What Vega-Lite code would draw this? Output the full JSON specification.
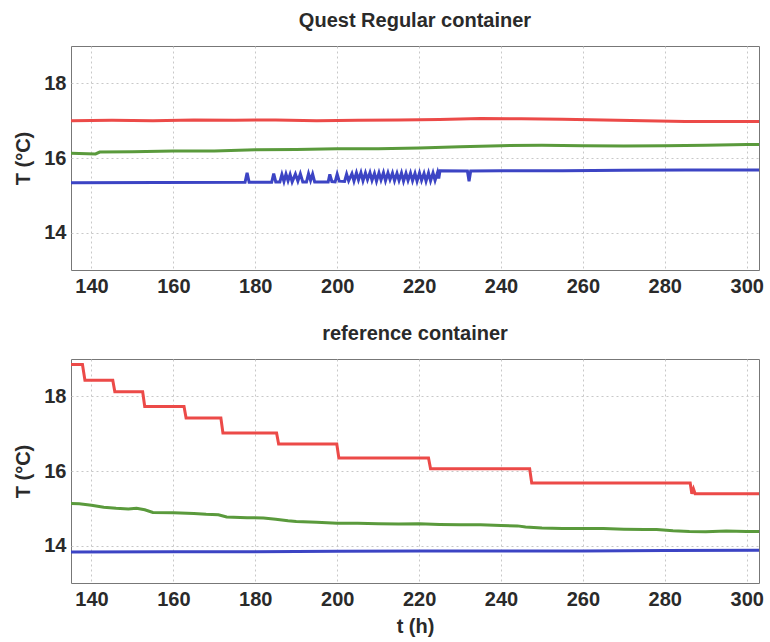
{
  "$schema": "https://vega.github.io/schema/vega-lite/v6.json",
  "background": "white",
  "padding": {"left": 12, "top": 10, "right": 5, "bottom": 5},
  "spacing": 26,
  "config": {
    "font": "Liberation Sans",
    "view": {"stroke": "#777777", "strokeWidth": 1},
    "title": {"fontSize": 20, "fontWeight": "bold", "color": "#2a2a2a", "offset": 15, "font": "Liberation Sans"},
    "axis": {
      "labelFont": "Liberation Sans", "labelFontSize": 20, "labelFontWeight": "bold", "labelColor": "#2a2a2a",
      "titleFont": "Liberation Sans", "titleFontSize": 20, "titleFontWeight": "bold", "titleColor": "#2a2a2a",
      "grid": true, "gridColor": "#c8c8c8", "gridDash": [2, 3], "gridWidth": 1,
      "domain": false, "tickSize": 0
    }
  },
  "datasets": {
    "top": [
      {"t": 135, "T": 17.0, "s": "red"}, {"t": 145, "T": 17.01, "s": "red"}, {"t": 155, "T": 17.0, "s": "red"}, {"t": 165, "T": 17.02, "s": "red"}, {"t": 175, "T": 17.01, "s": "red"}, {"t": 185, "T": 17.02, "s": "red"}, {"t": 195, "T": 17.0, "s": "red"}, {"t": 205, "T": 17.01, "s": "red"}, {"t": 215, "T": 17.02, "s": "red"}, {"t": 225, "T": 17.03, "s": "red"}, {"t": 235, "T": 17.06, "s": "red"}, {"t": 245, "T": 17.05, "s": "red"}, {"t": 255, "T": 17.04, "s": "red"}, {"t": 265, "T": 17.02, "s": "red"}, {"t": 275, "T": 17.0, "s": "red"}, {"t": 285, "T": 16.98, "s": "red"}, {"t": 295, "T": 16.98, "s": "red"}, {"t": 303, "T": 16.98, "s": "red"},
      {"t": 135, "T": 16.13, "s": "green"}, {"t": 141, "T": 16.11, "s": "green"}, {"t": 142, "T": 16.16, "s": "green"}, {"t": 150, "T": 16.17, "s": "green"}, {"t": 160, "T": 16.19, "s": "green"}, {"t": 170, "T": 16.19, "s": "green"}, {"t": 180, "T": 16.22, "s": "green"}, {"t": 190, "T": 16.23, "s": "green"}, {"t": 200, "T": 16.25, "s": "green"}, {"t": 210, "T": 16.25, "s": "green"}, {"t": 220, "T": 16.27, "s": "green"}, {"t": 230, "T": 16.3, "s": "green"}, {"t": 240, "T": 16.33, "s": "green"}, {"t": 250, "T": 16.34, "s": "green"}, {"t": 260, "T": 16.33, "s": "green"}, {"t": 270, "T": 16.32, "s": "green"}, {"t": 280, "T": 16.33, "s": "green"}, {"t": 290, "T": 16.34, "s": "green"}, {"t": 300, "T": 16.36, "s": "green"}, {"t": 303, "T": 16.36, "s": "green"},
      {"t": 135, "T": 15.34, "s": "blue"}, {"t": 177.5, "T": 15.35, "s": "blue"}, {"t": 178, "T": 15.6, "s": "blue"}, {"t": 178.5, "T": 15.35, "s": "blue"}, {"t": 184, "T": 15.35, "s": "blue"}, {"t": 184.5, "T": 15.58, "s": "blue"}, {"t": 185, "T": 15.36, "s": "blue"}, {"t": 186, "T": 15.36, "s": "blue"}, {"t": 186.5, "T": 15.56, "s": "blue"}, {"t": 187, "T": 15.37, "s": "blue"}, {"t": 187.5, "T": 15.57, "s": "blue"}, {"t": 188, "T": 15.39, "s": "blue"}, {"t": 188.5, "T": 15.56, "s": "blue"}, {"t": 189, "T": 15.36, "s": "blue"}, {"t": 189.8, "T": 15.57, "s": "blue"}, {"t": 190.4, "T": 15.38, "s": "blue"}, {"t": 191, "T": 15.58, "s": "blue"}, {"t": 191.6, "T": 15.36, "s": "blue"}, {"t": 192.5, "T": 15.36, "s": "blue"}, {"t": 193, "T": 15.58, "s": "blue"}, {"t": 193.5, "T": 15.4, "s": "blue"}, {"t": 194, "T": 15.57, "s": "blue"}, {"t": 194.5, "T": 15.36, "s": "blue"}, {"t": 197.8, "T": 15.36, "s": "blue"}, {"t": 198.2, "T": 15.56, "s": "blue"}, {"t": 198.7, "T": 15.37, "s": "blue"}, {"t": 199.5, "T": 15.36, "s": "blue"}, {"t": 200, "T": 15.57, "s": "blue"}, {"t": 200.5, "T": 15.38, "s": "blue"}, {"t": 201.8, "T": 15.37, "s": "blue"}, {"t": 202.3, "T": 15.57, "s": "blue"}, {"t": 202.8, "T": 15.39, "s": "blue"}, {"t": 203.6, "T": 15.58, "s": "blue"}, {"t": 204.1, "T": 15.38, "s": "blue"}, {"t": 204.7, "T": 15.6, "s": "blue"}, {"t": 205.2, "T": 15.41, "s": "blue"}, {"t": 205.8, "T": 15.61, "s": "blue"}, {"t": 206.3, "T": 15.39, "s": "blue"}, {"t": 206.9, "T": 15.6, "s": "blue"}, {"t": 207.4, "T": 15.42, "s": "blue"}, {"t": 208, "T": 15.61, "s": "blue"}, {"t": 208.5, "T": 15.4, "s": "blue"}, {"t": 209.1, "T": 15.59, "s": "blue"}, {"t": 209.6, "T": 15.38, "s": "blue"}, {"t": 210.2, "T": 15.6, "s": "blue"}, {"t": 210.7, "T": 15.41, "s": "blue"}, {"t": 211.3, "T": 15.61, "s": "blue"}, {"t": 211.8, "T": 15.39, "s": "blue"}, {"t": 212.4, "T": 15.6, "s": "blue"}, {"t": 212.9, "T": 15.42, "s": "blue"}, {"t": 213.5, "T": 15.6, "s": "blue"}, {"t": 214, "T": 15.39, "s": "blue"}, {"t": 214.6, "T": 15.59, "s": "blue"}, {"t": 215.1, "T": 15.4, "s": "blue"}, {"t": 215.7, "T": 15.6, "s": "blue"}, {"t": 216.2, "T": 15.38, "s": "blue"}, {"t": 216.8, "T": 15.59, "s": "blue"}, {"t": 217.3, "T": 15.4, "s": "blue"}, {"t": 217.9, "T": 15.6, "s": "blue"}, {"t": 218.4, "T": 15.39, "s": "blue"}, {"t": 219, "T": 15.59, "s": "blue"}, {"t": 219.5, "T": 15.38, "s": "blue"}, {"t": 220.1, "T": 15.6, "s": "blue"}, {"t": 220.6, "T": 15.4, "s": "blue"}, {"t": 221.2, "T": 15.59, "s": "blue"}, {"t": 221.7, "T": 15.38, "s": "blue"}, {"t": 222.3, "T": 15.6, "s": "blue"}, {"t": 222.8, "T": 15.39, "s": "blue"}, {"t": 223.4, "T": 15.6, "s": "blue"}, {"t": 223.9, "T": 15.4, "s": "blue"}, {"t": 224.5, "T": 15.61, "s": "blue"}, {"t": 224.8, "T": 15.45, "s": "blue"}, {"t": 225.1, "T": 15.66, "s": "blue"}, {"t": 231.8, "T": 15.65, "s": "blue"}, {"t": 232.2, "T": 15.38, "s": "blue"}, {"t": 232.6, "T": 15.65, "s": "blue"}, {"t": 240, "T": 15.66, "s": "blue"}, {"t": 255, "T": 15.66, "s": "blue"}, {"t": 270, "T": 15.67, "s": "blue"}, {"t": 285, "T": 15.68, "s": "blue"}, {"t": 303, "T": 15.68, "s": "blue"}
    ],
    "bottom": [
      {"t": 135, "T": 18.85, "s": "red"}, {"t": 137.8, "T": 18.85, "s": "red"}, {"t": 138.4, "T": 18.43, "s": "red"}, {"t": 145.2, "T": 18.43, "s": "red"}, {"t": 145.7, "T": 18.12, "s": "red"}, {"t": 152.5, "T": 18.12, "s": "red"}, {"t": 153, "T": 17.73, "s": "red"}, {"t": 162.6, "T": 17.73, "s": "red"}, {"t": 163.1, "T": 17.42, "s": "red"}, {"t": 171.6, "T": 17.42, "s": "red"}, {"t": 172.1, "T": 17.02, "s": "red"}, {"t": 185.2, "T": 17.02, "s": "red"}, {"t": 185.7, "T": 16.72, "s": "red"}, {"t": 199.9, "T": 16.72, "s": "red"}, {"t": 200.4, "T": 16.35, "s": "red"}, {"t": 222.3, "T": 16.35, "s": "red"}, {"t": 222.8, "T": 16.06, "s": "red"}, {"t": 247, "T": 16.06, "s": "red"}, {"t": 247.5, "T": 15.68, "s": "red"}, {"t": 286.2, "T": 15.68, "s": "red"}, {"t": 286.6, "T": 15.39, "s": "red"}, {"t": 287, "T": 15.52, "s": "red"}, {"t": 287.4, "T": 15.39, "s": "red"}, {"t": 303, "T": 15.39, "s": "red"},
      {"t": 135, "T": 15.13, "s": "green"}, {"t": 137, "T": 15.12, "s": "green"}, {"t": 140, "T": 15.08, "s": "green"}, {"t": 143, "T": 15.03, "s": "green"}, {"t": 146, "T": 15.0, "s": "green"}, {"t": 149, "T": 14.98, "s": "green"}, {"t": 151, "T": 15.0, "s": "green"}, {"t": 153, "T": 14.96, "s": "green"}, {"t": 155, "T": 14.89, "s": "green"}, {"t": 160, "T": 14.88, "s": "green"}, {"t": 165, "T": 14.86, "s": "green"}, {"t": 168, "T": 14.84, "s": "green"}, {"t": 171, "T": 14.83, "s": "green"}, {"t": 173, "T": 14.77, "s": "green"}, {"t": 178, "T": 14.75, "s": "green"}, {"t": 182, "T": 14.74, "s": "green"}, {"t": 185, "T": 14.71, "s": "green"}, {"t": 188, "T": 14.67, "s": "green"}, {"t": 190, "T": 14.65, "s": "green"}, {"t": 195, "T": 14.63, "s": "green"}, {"t": 200, "T": 14.6, "s": "green"}, {"t": 205, "T": 14.6, "s": "green"}, {"t": 210, "T": 14.59, "s": "green"}, {"t": 215, "T": 14.58, "s": "green"}, {"t": 220, "T": 14.59, "s": "green"}, {"t": 225, "T": 14.57, "s": "green"}, {"t": 230, "T": 14.56, "s": "green"}, {"t": 235, "T": 14.56, "s": "green"}, {"t": 240, "T": 14.54, "s": "green"}, {"t": 244, "T": 14.53, "s": "green"}, {"t": 246, "T": 14.5, "s": "green"}, {"t": 250, "T": 14.47, "s": "green"}, {"t": 255, "T": 14.46, "s": "green"}, {"t": 260, "T": 14.46, "s": "green"}, {"t": 265, "T": 14.46, "s": "green"}, {"t": 270, "T": 14.44, "s": "green"}, {"t": 275, "T": 14.43, "s": "green"}, {"t": 278, "T": 14.43, "s": "green"}, {"t": 282, "T": 14.4, "s": "green"}, {"t": 286, "T": 14.38, "s": "green"}, {"t": 290, "T": 14.37, "s": "green"}, {"t": 295, "T": 14.39, "s": "green"}, {"t": 300, "T": 14.38, "s": "green"}, {"t": 303, "T": 14.38, "s": "green"},
      {"t": 135, "T": 13.83, "s": "blue"}, {"t": 160, "T": 13.84, "s": "blue"}, {"t": 180, "T": 13.84, "s": "blue"}, {"t": 200, "T": 13.85, "s": "blue"}, {"t": 220, "T": 13.86, "s": "blue"}, {"t": 240, "T": 13.86, "s": "blue"}, {"t": 260, "T": 13.86, "s": "blue"}, {"t": 280, "T": 13.87, "s": "blue"}, {"t": 303, "T": 13.88, "s": "blue"}
    ]
  },
  "vconcat": [
    {
      "title": "Quest Regular container",
      "width": 688,
      "height": 224,
      "data": {"name": "top"},
      "mark": {"type": "line", "strokeWidth": 3, "clip": true},
      "encoding": {
        "x": {"field": "t", "type": "quantitative", "scale": {"domain": [135, 303], "nice": false, "zero": false}, "axis": {"title": null, "values": [140, 160, 180, 200, 220, 240, 260, 280, 300], "labelPadding": 6}},
        "y": {"field": "T", "type": "quantitative", "scale": {"domain": [13, 19], "nice": false, "zero": false}, "axis": {"title": "T (°C)", "values": [14, 16, 18], "labelPadding": 5, "minExtent": 32, "maxExtent": 32, "titlePadding": 6}},
        "color": {"field": "s", "type": "nominal", "scale": {"domain": ["red", "green", "blue"], "range": ["#ec4a48", "#5a9a3c", "#3c44c4"]}, "legend": null},
        "order": {"field": "t", "type": "quantitative"}
      }
    },
    {
      "title": "reference container",
      "width": 688,
      "height": 224,
      "data": {"name": "bottom"},
      "mark": {"type": "line", "strokeWidth": 3, "clip": true},
      "encoding": {
        "x": {"field": "t", "type": "quantitative", "scale": {"domain": [135, 303], "nice": false, "zero": false}, "axis": {"title": "t (h)", "values": [140, 160, 180, 200, 220, 240, 260, 280, 300], "labelPadding": 6, "titlePadding": 7}},
        "y": {"field": "T", "type": "quantitative", "scale": {"domain": [13, 19], "nice": false, "zero": false}, "axis": {"title": "T (°C)", "values": [14, 16, 18], "labelPadding": 5, "minExtent": 32, "maxExtent": 32, "titlePadding": 6}},
        "color": {"field": "s", "type": "nominal", "scale": {"domain": ["red", "green", "blue"], "range": ["#ec4a48", "#5a9a3c", "#3c44c4"]}, "legend": null},
        "order": {"field": "t", "type": "quantitative"}
      }
    }
  ]
}
